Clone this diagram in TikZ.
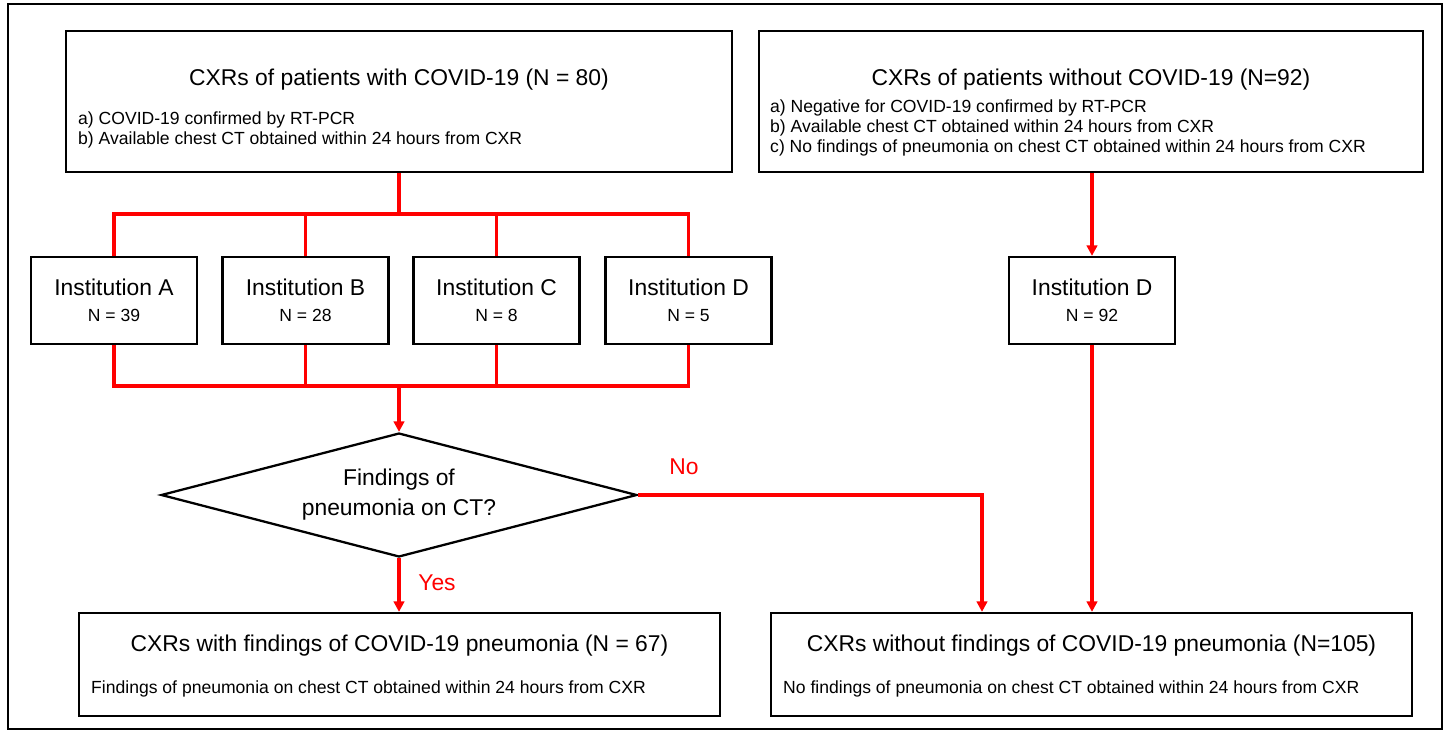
\documentclass[tikz,border=0pt]{standalone}
\usepackage{fontspec}
\setmainfont{Liberation Sans}
\usetikzlibrary{arrows.meta,shapes.geometric}

\begin{document}
\begin{tikzpicture}[x=0.02cm, y=-0.02cm,
    >={Triangle[length=6pt,width=6pt]},
    box/.style={rectangle, draw, line width=1.3pt, fill=white},
    flow/.style={draw=red, line width=2pt},
    bigtxt/.style={font=\fontsize{13}{15.6}\selectfont},
    smalltxt/.style={font=\fontsize{10}{11.2}\selectfont, align=left},
    lbl/.style={text=red, font=\fontsize{13}{15.6}\selectfont}]

    \useasboundingbox (0,0) rectangle (1447,733);
    \draw[line width=1.2pt] (8,4) rectangle (1442,729);

    % patients with COVID-19
    \node[box,
          minimum width = 13.32cm,
          minimum height = 2.82cm] (pos) at (399,101.5) {};
    \node[bigtxt] at (399,80) {CXRs of patients with COVID-19 (N = 80)};
    \node[smalltxt, anchor=west] at (72,130) {a) COVID-19 confirmed by RT-PCR\\
        b) Available chest CT obtained within 24 hours from CXR};

    % patients without COVID-19
    \node[box,
          minimum width = 13.28cm,
          minimum height = 2.82cm] (neg) at (1091,101.5) {};
    \node[bigtxt] at (1091,80) {CXRs of patients without COVID-19 (N=92)};
    \node[smalltxt, anchor=west] at (764,128) {a) Negative for COVID-19 confirmed by RT-PCR\\
        b) Available chest CT obtained within 24 hours from CXR\\
        c) No findings of pneumonia on chest CT obtained within 24 hours from CXR};

    % institutions
    \foreach \n/\x/\k in {A/114/39, B/305.5/28, C/496.5/8, D/688.5/5} {
        \node[box,
              minimum width = 3.32cm,
              minimum height = 1.74cm] (inst\n) at (\x,300.5) {};
        \node[bigtxt, align=center] at (inst\n.center)
            {Institution \n\\[-1pt]{\fontsize{10}{12}\selectfont N = \k}};
    }
    \node[box,
          minimum width = 3.32cm,
          minimum height = 1.74cm] (negD) at (1092,300.5) {};
    \node[bigtxt, align=center] at (negD.center)
        {Institution D\\[-1pt]{\fontsize{10}{12}\selectfont N = 92}};

    % decision
    \node[diamond,
          draw,
          line width = 1.3pt,
          inner sep = 0pt,
          minimum width = 9.52cm,
          minimum height = 2.48cm] (ct) at (399,495) {};
    \node[bigtxt, align=center] at (ct.center) {Findings of\\[1.4pt] pneumonia on CT?};

    % results
    \node[box,
          minimum width = 12.82cm,
          minimum height = 2.06cm] (withpn) at (399.5,664.5) {};
    \node[bigtxt] at (399.5,646) {CXRs with findings of COVID-19 pneumonia (N = 67)};
    \node[smalltxt, anchor=west] at (85,689) {Findings of pneumonia on chest CT obtained within 24 hours from CXR};

    \node[box,
          minimum width = 12.82cm,
          minimum height = 2.06cm] (nopn) at (1091.5,664.5) {};
    \node[bigtxt] at (1091.5,646) {CXRs without findings of COVID-19 pneumonia (N=105)};
    \node[smalltxt, anchor=west] at (777,689) {No findings of pneumonia on chest CT obtained within 24 hours from CXR};

    % connectors
    \coordinate (topbus) at (399,214);
    \coordinate (botbus) at (399,386);
    \coordinate (nodrop) at (982,495);

    \draw[flow] (pos.south) -- (topbus);
    \draw[flow] (instA.north) |- (topbus) -| (instD.north);
    \draw[flow] (instA.south) |- (botbus) -| (instD.south);
    \foreach \n in {B,C} {
        \draw[flow] (inst\n.north) -- (inst\n.north |- topbus);
        \draw[flow] (inst\n.south) -- (inst\n.south |- botbus);
    }
    \draw[flow,->] (botbus) -- (ct.north);
    \draw[flow,->] (ct.south) -- (ct.south |- withpn.north);
    \draw[flow,->] (ct.east) -- (nodrop) -- (nodrop |- nopn.north);
    \draw[flow,->] (negD.north |- neg.south) -- (negD.north);
    \draw[flow,->] (negD.south) -- (negD.south |- nopn.north);

    \node[lbl] (yes) at (437,583) {Yes};
    \node[lbl] (no) at (684,467) {No};

\end{tikzpicture}
\end{document}
